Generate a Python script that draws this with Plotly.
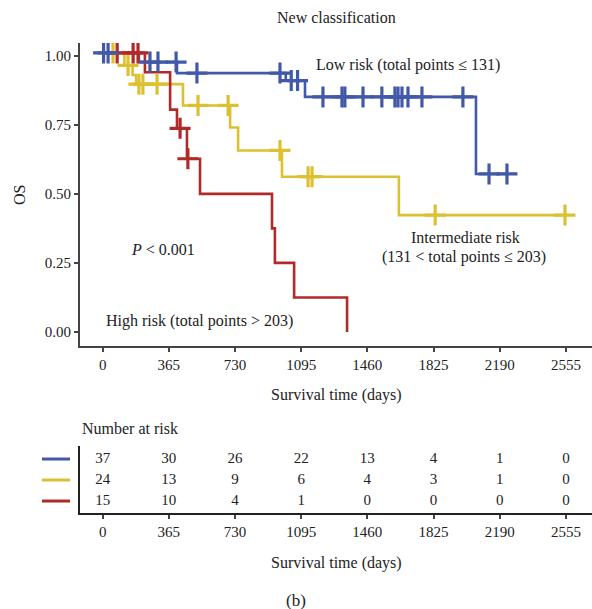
import plotly.graph_objects as go

# ---------------- data ----------------
tick_days = [0, 365, 730, 1095, 1460, 1825, 2190, 2555]

low_times = [0, 200, 410, 1010, 1116, 2059, 2230]
low_surv = [1.01, 0.977, 0.937, 0.91, 0.851, 0.572, 0.572]
low_censor = [5, 30, 261, 305, 405, 520, 978, 1040, 1075, 1215, 1320, 1336, 1436,
              1540, 1612, 1629, 1651, 1684, 1761, 1987, 2131, 2230]

mid_times = [0, 120, 165, 185, 443, 703, 747, 989, 1634, 2555]
mid_surv = [1.01, 0.965, 0.93, 0.897, 0.82, 0.74, 0.657, 0.562, 0.423, 0.423]
mid_censor = [57, 140, 200, 222, 300, 526, 692, 978, 1133, 1155, 1834, 2550]

high_times = [0, 233, 372, 410, 465, 537, 934, 950, 1056, 1348]
high_surv = [1.01, 0.94, 0.805, 0.737, 0.627, 0.5, 0.375, 0.25, 0.125, 0.0]
high_censor = [80, 168, 195, 427, 470]

risk_low = [37, 30, 26, 22, 13, 4, 1, 0]
risk_mid = [24, 13, 9, 6, 4, 3, 1, 0]
risk_high = [15, 10, 4, 1, 0, 0, 0, 0]

BLUE = "#4159A8"
YELLOW = "#DDC030"
RED = "#B02A2A"
FONT = "Liberation Serif"
TXT = "#222"
W, H = 592, 609
L = 80
PW = W - L
TICK_FS = 15
ANN_FS = 16


def px_x(p):
    return (p - L) / PW


def px_y(p):
    return 1 - p / H


def level_at(times, surv, t):
    val = surv[0]
    for tt, s in zip(times, surv):
        if tt <= t:
            val = s
    return val


fig = go.Figure()

series = [
    (mid_times, mid_surv, mid_censor, YELLOW),
    (low_times, low_surv, low_censor, BLUE),
    (high_times, high_surv, high_censor, RED),
]
for times, surv, cens, col in series:
    fig.add_trace(go.Scatter(x=times, y=surv, mode="lines", line=dict(color=col, width=2.6, shape="hv"),
                             showlegend=False, hoverinfo="skip", xaxis="x", yaxis="y"))
for times, surv, cens, col in [series[0], series[2], series[1]]:
    fig.add_trace(go.Scatter(x=cens, y=[level_at(times, surv, c) for c in cens], mode="markers",
                             marker=dict(symbol="cross-thin", size=15, line=dict(color=col, width=3.2), color=col),
                             showlegend=False, hoverinfo="skip", xaxis="x", yaxis="y"))

# risk table
for row, vals in zip([3, 2, 1], [risk_low, risk_mid, risk_high]):
    fig.add_trace(go.Scatter(x=tick_days, y=[row] * len(tick_days), text=[str(v) for v in vals],
                             mode="text", textfont=dict(family=FONT, size=TICK_FS, color=TXT),
                             showlegend=False, hoverinfo="skip", xaxis="x2", yaxis="y2"))

xr = [-125, 2699]
fig.update_layout(
    width=W, height=H,
    margin=dict(l=L, r=0, t=0, b=0),
    paper_bgcolor="white", plot_bgcolor="white",
    font=dict(family=FONT, size=TICK_FS, color=TXT),
    xaxis=dict(domain=[0, 1], range=xr, anchor="y", tickvals=tick_days, showgrid=False, zeroline=False,
               showline=True, linecolor="#444", linewidth=2, ticks="outside", ticklen=4, tickwidth=1.5,
               tickcolor="#444", tickfont=dict(size=TICK_FS, color=TXT)),
    yaxis=dict(domain=[px_y(346), px_y(43)], range=[-0.0507, 1.046], anchor="x",
               tickvals=[0, 0.25, 0.5, 0.75, 1.0], ticktext=["0.00", "0.25", "0.50", "0.75", "1.00"],
               showgrid=False, zeroline=False, showline=True, linecolor="#444", linewidth=2,
               ticks="outside", ticklen=4, tickwidth=1.5, tickcolor="#444", tickfont=dict(size=TICK_FS, color=TXT)),
    xaxis2=dict(domain=[0, 1], range=xr, anchor="y2", tickvals=tick_days, showgrid=False, zeroline=False,
                showline=True, linecolor="#222", linewidth=2, ticks="outside", ticklen=4, tickwidth=1.5,
                tickcolor="#444", tickfont=dict(size=TICK_FS, color=TXT)),
    yaxis2=dict(domain=[px_y(513), px_y(446)], range=[0.43, 3.62], anchor="x2", showgrid=False,
                zeroline=False, showline=True, linecolor="#222", linewidth=2, showticklabels=False, ticks=""),
)

# legend keys in table
for row, col in zip([3, 2, 1], [BLUE, YELLOW, RED]):
    fig.add_shape(type="line", xref="paper", yref="y2", x0=px_x(42), x1=px_x(70), y0=row, y1=row,
                  line=dict(color=col, width=3))

ann = [
    ("New classification", 336, 18, "center"),
    ("Low risk (total points ≤ 131)", 408, 65, "center"),
    ("Intermediate risk", 465, 237, "center"),
    ("(131 < total points ≤ 203)", 464, 257, "center"),
    ("<i>P</i> < 0.001", 163, 249, "center"),
    ("High risk (total points > 203)", 199, 321, "center"),
    ("Survival time (days)", 336, 395, "center"),
    ("Number at risk", 80, 428, "left"),
    ("Survival time (days)", 336, 563, "center"),
]
for text, x, y, anchor in ann:
    fig.add_annotation(text=text, x=px_x(x), y=px_y(y), xref="paper", yref="paper", showarrow=False,
                       xanchor=anchor, yanchor="middle", font=dict(family=FONT, size=ANN_FS, color=TXT))
fig.add_annotation(text="OS", x=px_x(20), y=px_y(195), xref="paper", yref="paper", showarrow=False,
                   textangle=-90, xanchor="center", yanchor="middle", font=dict(family=FONT, size=ANN_FS, color=TXT))
fig.add_annotation(text="(b)", x=px_x(296), y=px_y(600), xref="paper", yref="paper", showarrow=False,
                   xanchor="center", yanchor="middle", font=dict(family=FONT, size=17, color=TXT))

fig.write_html("out.html")
